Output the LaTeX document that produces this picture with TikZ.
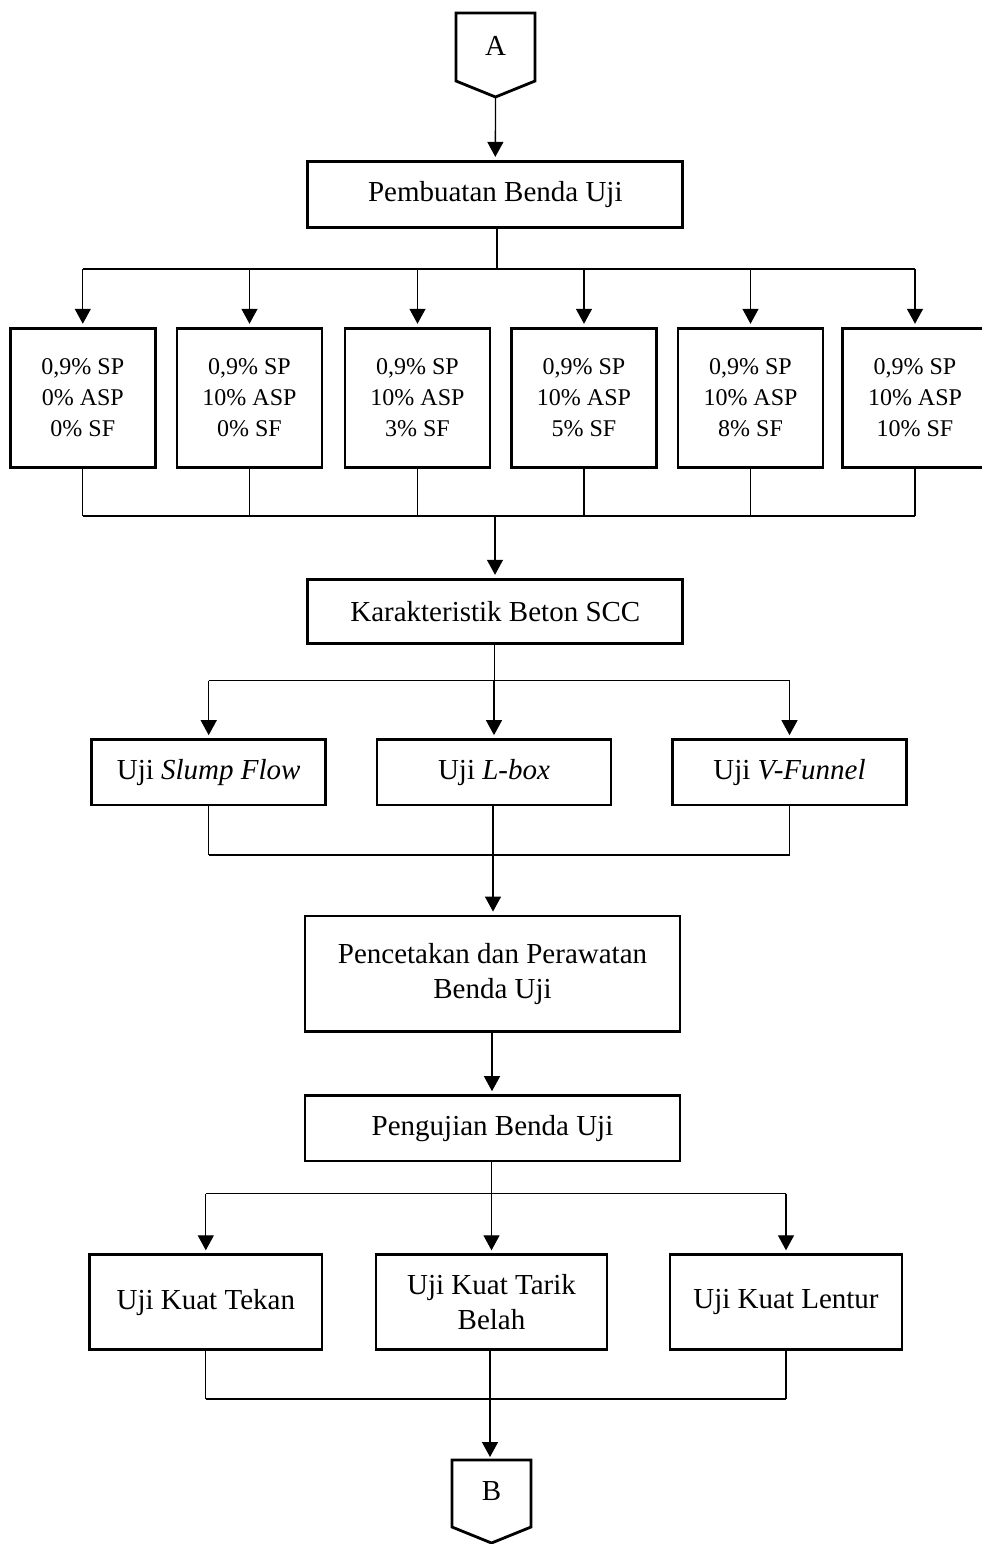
\documentclass[tikz,border=0pt]{standalone}
\usepackage{fontspec}
\setmainfont{Liberation Serif}
\usetikzlibrary{arrows.meta,calc}
\begin{document}
\begin{tikzpicture}[x=1pt,y=-1pt,
  box/.style={draw, line width=2.8pt, align=center, inner sep=0pt, font=\fontsize{29}{35}\selectfont},
  mixbox/.style={box, minimum width=145pt, minimum height=139pt, font=\fontsize{24}{31}\selectfont},
  wide/.style={box, minimum width=375pt},
  mid/.style={box, minimum width=234pt},
  conn/.style={line width=1.3pt},
  arr/.style={conn, -{Triangle[length=15pt,width=16pt]}, shorten >=3pt},
  lbl/.style={font=\fontsize{29}{35}\selectfont, inner sep=0pt},
  connshape/.style={line width=2.8pt, line join=miter}]
\useasboundingbox (0,0) rectangle (982,1544);

% connector A
\node[lbl] (A) at (495.5,46) {A};
\coordinate (Atip) at (495.5,97);
\draw[connshape] (456,13) -- (535,13) -- (535,81) -- (Atip) -- (456,81) -- cycle;

% Pembuatan
\node[wide, minimum height=66pt] (P) at (495.3,194.3) {Pembuatan Benda Uji};
\draw[arr] (Atip) -- (P.north);

% six mixes
\node[mixbox] (m1) at (82.8,397.7) {0,9\% SP\\0\% ASP\\0\% SF};
\node[mixbox] (m2) at (249.5,397.7) {0,9\% SP\\10\% ASP\\0\% SF};
\node[mixbox] (m3) at (417.5,397.7) {0,9\% SP\\10\% ASP\\3\% SF};
\node[mixbox] (m4) at (584,397.7) {0,9\% SP\\10\% ASP\\5\% SF};
\node[mixbox] (m5) at (750.5,397.7) {0,9\% SP\\10\% ASP\\8\% SF};
\node[mixbox] (m6) at (915,397.7) {0,9\% SP\\10\% ASP\\10\% SF};

\coordinate (J1) at (497,269);
\draw[conn] (P.south -| J1) -- (J1);
\draw[conn] (m1.north |- J1) -- (m6.north |- J1);
\foreach \m in {m1,m2,m3,m4,m5,m6}
  \draw[arr] (\m.north |- J1) -- (\m.north);

% Karakteristik
\node[wide, minimum height=64pt] (K) at (495.3,611.2) {Karakteristik Beton SCC};
\coordinate (J2) at (495,516);
\draw[conn] (m1.south |- J2) -- (m6.south |- J2);
\foreach \m in {m1,m2,m3,m4,m5,m6}
  \draw[conn] (\m.south) -- (\m.south |- J2);
\draw[arr] (J2) -- (K.north -| J2);

% three fresh tests
\node[mid, minimum height=65.5pt] (t1) at (208.7,772.3) {Uji \textit{Slump Flow}};
\node[mid, minimum height=65.5pt] (t2) at (494,772.3) {Uji \textit{L-box}};
\node[mid, minimum height=65.5pt] (t3) at (789.5,772.3) {Uji \textit{V-Funnel}};
\coordinate (J3) at (494.7,680.5);
\draw[conn] (K.south -| J3) -- (J3);
\draw[conn] (t1.north |- J3) -- (t3.north |- J3);
\foreach \t in {t1,t2,t3}
  \draw[arr] (\t.north |- J3) -- (\t.north);

% Pencetakan
\node[wide, minimum height=115.6pt] (C) at (492.5,973.8) {Pencetakan dan Perawatan\\Benda Uji};
\coordinate (J4) at (493,855);
\draw[conn] (t1.south |- J4) -- (t3.south |- J4);
\draw[conn] (t1.south) -- (t1.south |- J4);
\draw[conn] (t3.south) -- (t3.south |- J4);
\draw[arr] (t2.south -| J4) -- (C.north -| J4);

% Pengujian
\node[wide, minimum height=65.4pt] (G) at (492.5,1128.3) {Pengujian Benda Uji};
\draw[arr] (C.south -| 492,0) -- (G.north -| 492,0);

% hardened tests
\node[box, minimum width=232.5pt, minimum height=95pt] (h1) at (205.8,1302.2) {Uji Kuat Tekan};
\node[box, minimum width=231pt, minimum height=95pt] (h2) at (491.5,1302.2) {Uji Kuat Tarik\\Belah};
\node[box, minimum width=232pt, minimum height=95pt] (h3) at (786,1302.2) {Uji Kuat Lentur};
\coordinate (J5) at (491.5,1193.6);
\draw[conn] (G.south -| J5) -- (J5);
\draw[conn] (h1.north |- J5) -- (h3.north |- J5);
\foreach \h in {h1,h2,h3}
  \draw[arr] (\h.north |- J5) -- (\h.north);

% connector B
\node[lbl] (B) at (491.5,1490.6) {B};
\coordinate (J6) at (490,1399);
\coordinate (Btop) at (491.5,1460);
\draw[conn] (h1.south |- J6) -- (h3.south |- J6);
\draw[conn] (h1.south) -- (h1.south |- J6);
\draw[conn] (h3.south) -- (h3.south |- J6);
\draw[arr] (h2.south -| J6) -- (Btop -| J6);
\draw[connshape] (452,1460) -- (531,1460) -- (531,1527) -- (491.5,1543) -- (452,1527) -- cycle;
\end{tikzpicture}
\end{document}
